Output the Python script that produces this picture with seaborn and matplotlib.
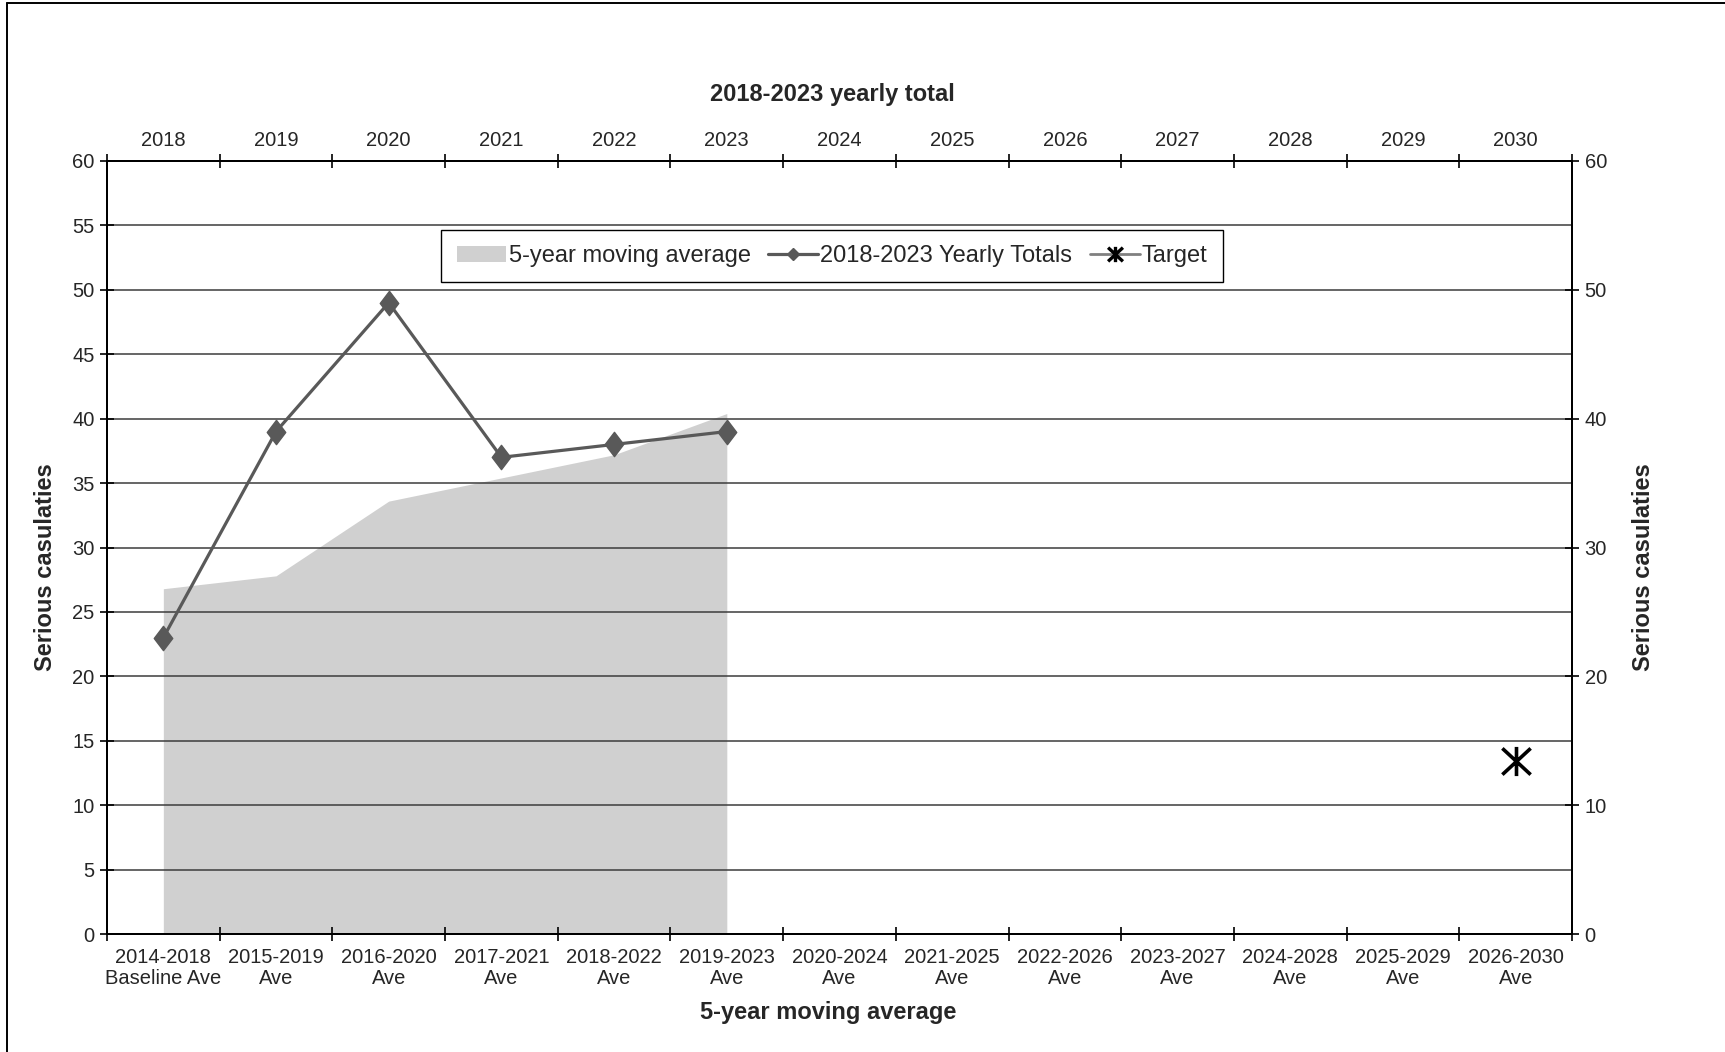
import numpy as np
import pandas as pd
import matplotlib
matplotlib.use("Agg")
import matplotlib.pyplot as plt
from matplotlib.path import Path
from matplotlib.lines import Line2D
from matplotlib.patches import Patch
import seaborn as sns

# ---- data ----
periods = ["2014-2018\nBaseline Ave", "2015-2019\nAve", "2016-2020\nAve", "2017-2021\nAve",
           "2018-2022\nAve", "2019-2023\nAve", "2020-2024\nAve", "2021-2025\nAve",
           "2022-2026\nAve", "2023-2027\nAve", "2024-2028\nAve", "2025-2029\nAve",
           "2026-2030\nAve"]
years = ["2018", "2019", "2020", "2021", "2022", "2023", "2024", "2025",
         "2026", "2027", "2028", "2029", "2030"]
moving_avg = [26.8, 27.8, 33.6, 35.4, 37.2, 40.4]
yearly_totals = [23, 39, 49, 37, 38, 39]
target_period = "2026-2030\nAve"
target_value = 13.4
left_ticks = list(range(0, 61, 5))
right_ticks = list(range(0, 61, 10))

sns.set_theme(style="white")
plt.rcParams["font.family"] = ["Liberation Sans", "DejaVu Sans"]

pos = {p: i for i, p in enumerate(periods)}
avg_df = pd.DataFrame({"x": [pos[p] for p in periods[:len(moving_avg)]], "value": moving_avg})
tot_df = pd.DataFrame({"x": [pos[p] for p in periods[:len(yearly_totals)]], "value": yearly_totals})
tgt_df = pd.DataFrame({"x": [pos[target_period]], "value": [target_value]})

# custom marker shapes
diamond = Path([(0, 1), (0.76, 0), (0, -1), (-0.76, 0), (0, 1)],
               [Path.MOVETO, Path.LINETO, Path.LINETO, Path.LINETO, Path.CLOSEPOLY])
asterisk = Path([(0, -1), (0, 1), (-0.97, -0.9), (0.97, 0.9), (-0.97, 0.9), (0.97, -0.9)],
                [Path.MOVETO, Path.LINETO, Path.MOVETO, Path.LINETO, Path.MOVETO, Path.LINETO])

fig = plt.figure(figsize=(17.25, 10.52), dpi=100)
ax = fig.add_axes([107 / 1725, 1 - 934 / 1052, 1465 / 1725, 773 / 1052])

line_col = "#595959"
area_col = "#d0d0d0"
tick_fs = 14.5
label_fs = 17

ax.fill_between(avg_df["x"], 0, avg_df["value"], color=area_col, lw=0, zorder=1)
sns.lineplot(data=tot_df, x="x", y="value", ax=ax, color=line_col, lw=2.3,
             marker=diamond, markersize=17.5, markeredgecolor=line_col,
             markerfacecolor=line_col, markeredgewidth=1, zorder=4)
sns.lineplot(data=tgt_df, x="x", y="value", ax=ax, color="#808080", lw=2,
             marker=asterisk, markersize=21, markeredgecolor="black",
             markeredgewidth=2.6, zorder=5)

n = len(periods)
ax.set_xlim(-0.5, n - 0.5)
ax.set_ylim(0, 60)
ax.set_axisbelow(False)
ax.yaxis.grid(True, color="#3c3c3c", lw=1.1)
ax.xaxis.grid(False)

tick_kw = dict(direction="inout", length=10, width=1.2, color="black", labelsize=tick_fs)
ax.set_yticks(left_ticks)
ax.tick_params(axis="y", **tick_kw, pad=4)
ax.set_xticks(np.arange(n + 1) - 0.5)
ax.set_xticklabels([])
ax.set_xticks(np.arange(n), minor=True)
ax.set_xticklabels(periods, minor=True, fontsize=tick_fs, linespacing=1.15)
ax.tick_params(axis="x", which="major", **tick_kw)
ax.tick_params(axis="x", which="minor", length=0, pad=10, labelsize=tick_fs)
ax.set_xlabel("5-year moving average", fontsize=label_fs, fontweight="bold")
ax.xaxis.set_label_coords(0.492, -0.0865)
ax.set_ylabel("Serious casulaties", fontsize=label_fs, fontweight="bold")
ax.yaxis.set_label_coords(-0.034, 0.475)

for s in ax.spines.values():
    s.set_visible(True)
    s.set_color("black")
    s.set_linewidth(1.4)

# right-hand value axis
axr = ax.twinx()
axr.set_ylim(0, 60)
axr.set_yticks(right_ticks)
axr.tick_params(axis="y", **tick_kw, pad=4)
axr.set_ylabel("Serious casulaties", fontsize=label_fs, fontweight="bold", rotation=90)
axr.yaxis.set_label_coords(1.041, 0.475)
axr.grid(False)

# top year axis
axt = ax.twiny()
axt.set_xlim(-0.5, n - 0.5)
axt.set_xticks(np.arange(n + 1) - 0.5)
axt.set_xticklabels([])
axt.set_xticks(np.arange(n), minor=True)
axt.set_xticklabels(years, minor=True, fontsize=tick_fs)
axt.tick_params(axis="x", which="major", **tick_kw)
axt.tick_params(axis="x", which="minor", length=0, pad=8)
axt.set_xlabel("2018-2023 yearly total", fontsize=label_fs, fontweight="bold")
axt.xaxis.set_label_coords(0.495, 1.077)
axt.grid(False)
for a in (axr, axt):
    for s in a.spines.values():
        s.set_color("black")
        s.set_linewidth(1.4)

handles = [
    Patch(facecolor=area_col, edgecolor="none", label="5-year moving average"),
    Line2D([], [], color=line_col, lw=2.3, marker="D", markersize=6.5,
           markerfacecolor=line_col, markeredgecolor=line_col, label="2018-2023 Yearly Totals"),
    Line2D([], [], color="#808080", lw=2, marker=asterisk, markersize=11,
           markeredgecolor="black", markeredgewidth=2.4, label="Target"),
]
leg = axt.legend(handles=handles, loc="center", bbox_to_anchor=(0.495, 0.877), ncol=3,
                 fontsize=17, frameon=True, fancybox=False, framealpha=1,
                 edgecolor="black", borderpad=0.65, handlelength=2.1,
                 handletextpad=0.1, columnspacing=0.75)
leg.get_frame().set_linewidth(1.0)

# outer frame edges
fig.add_artist(Line2D([7 / 1725, 7 / 1725], [0, 1 - 3 / 1052], transform=fig.transFigure,
                      color="black", lw=1.4))
fig.add_artist(Line2D([7 / 1725, 1], [1 - 3 / 1052, 1 - 3 / 1052], transform=fig.transFigure,
                      color="black", lw=1.4))

fig.savefig("out.png", dpi=100, facecolor="white")
